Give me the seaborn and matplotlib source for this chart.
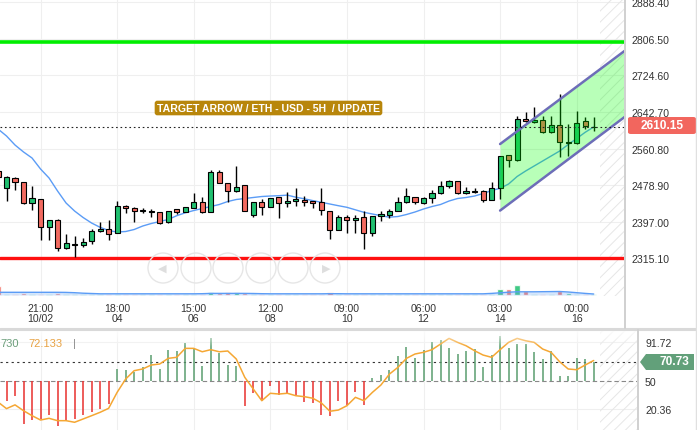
import numpy as np
import matplotlib
matplotlib.use("Agg")
import matplotlib.pyplot as plt
import seaborn as sns
from matplotlib.patches import Circle, Polygon, FancyBboxPatch
from matplotlib.lines import Line2D
from matplotlib.transforms import IdentityTransform

# ---------------- data ----------------
opens = [2510.6, 2472.5, 2494.9, 2486.0, 2438.9, 2447.9, 2385.2, 2400.9, 2338.2, 2346.0,
         2344.9, 2353.8, 2376.2, 2380.7, 2371.8, 2432.2, 2427.7, 2420.0, 2417.7, 2418.8,
         2396.4, 2425.5, 2418.8, 2427.7, 2441.2, 2418.8, 2508.4, 2483.7, 2465.8, 2479.3,
         2412.1, 2441.2, 2430.0, 2452.4, 2438.9, 2443.4, 2445.7, 2443.4, 2441.2, 2421.0,
         2378.5, 2407.6, 2400.9, 2407.6, 2371.8, 2409.8, 2412.1, 2421.0, 2441.2, 2452.4,
         2438.9, 2450.1, 2461.3, 2477.0, 2488.2, 2461.3, 2464.7, 2465.8, 2445.7, 2472.5,
         2546.4, 2535.2, 2627.1, 2620.3, 2624.8, 2597.9, 2613.6, 2573.3, 2573.3, 2622.6,
         2609.0]
highs = [2515.1, 2499.4, 2497.2, 2487.0, 2477.0, 2449.0, 2402.0, 2403.1, 2369.5, 2365.0,
         2360.6, 2380.7, 2396.4, 2400.9, 2443.4, 2434.5, 2429.0, 2427.7, 2425.5, 2419.5,
         2422.0, 2426.5, 2431.0, 2461.3, 2452.4, 2512.9, 2512.9, 2484.5, 2521.8, 2480.0,
         2442.0, 2447.9, 2451.0, 2453.0, 2463.6, 2472.5, 2454.6, 2444.0, 2472.5, 2422.0,
         2412.1, 2412.1, 2412.1, 2421.0, 2410.5, 2421.0, 2425.5, 2452.4, 2472.5, 2453.0,
         2452.4, 2468.1, 2488.2, 2490.5, 2489.0, 2474.8, 2472.5, 2468.1, 2486.0, 2545.0,
         2547.0, 2633.8, 2642.7, 2654.0, 2633.8, 2633.8, 2683.0, 2615.9, 2645.0, 2631.5,
         2631.5]
lows = [2492.7, 2443.4, 2468.1, 2436.7, 2423.3, 2356.1, 2356.1, 2331.4, 2335.9, 2317.0,
        2340.4, 2347.1, 2374.0, 2356.1, 2371.0, 2416.5, 2396.4, 2416.5, 2407.6, 2391.9,
        2395.0, 2414.3, 2418.0, 2427.0, 2416.5, 2418.0, 2483.0, 2441.2, 2463.6, 2420.0,
        2407.6, 2412.1, 2429.0, 2405.3, 2430.0, 2432.2, 2432.2, 2427.7, 2412.1, 2358.3,
        2378.0, 2371.8, 2371.8, 2335.9, 2365.0, 2398.6, 2405.3, 2420.0, 2440.0, 2436.7,
        2436.7, 2438.9, 2460.0, 2472.5, 2459.1, 2460.0, 2461.3, 2441.2, 2445.0, 2447.9,
        2519.6, 2534.0, 2621.0, 2618.1, 2595.7, 2596.0, 2541.9, 2544.2, 2571.1, 2604.7,
        2600.2]
closes = [2497.2, 2497.2, 2486.0, 2438.9, 2450.1, 2385.2, 2400.9, 2338.2, 2349.4, 2348.2,
          2351.6, 2376.2, 2380.7, 2369.5, 2432.2, 2427.7, 2421.0, 2422.2, 2420.0, 2394.1,
          2421.0, 2418.8, 2430.0, 2441.2, 2418.8, 2508.4, 2483.7, 2465.8, 2474.8, 2421.0,
          2441.2, 2430.0, 2450.1, 2438.9, 2443.4, 2447.9, 2441.2, 2438.9, 2423.3, 2378.5,
          2407.6, 2400.9, 2405.3, 2371.8, 2409.8, 2414.3, 2421.0, 2441.2, 2454.6, 2441.2,
          2450.1, 2461.3, 2477.0, 2488.2, 2461.3, 2465.8, 2466.9, 2445.7, 2472.5, 2544.2,
          2535.2, 2627.1, 2622.6, 2624.8, 2597.9, 2613.6, 2575.5, 2575.5, 2618.1, 2611.4,
          2610.15]
ma_line = [2604.7, 2589.0, 2568.8, 2553.2, 2539.7, 2515.1, 2494.9, 2465.8, 2438.9, 2421.0,
           2406.5, 2394.1, 2384.5, 2377.3, 2374.0, 2375.1, 2379.6, 2387.4, 2393.0, 2397.5,
           2402.0, 2410.5, 2417.0, 2422.1, 2426.6, 2431.1, 2435.6, 2442.3, 2446.8, 2449.0,
           2451.3, 2453.5, 2454.6, 2455.3, 2456.6, 2451.9, 2448.3, 2444.3, 2440.5, 2436.7,
           2432.9, 2429.3, 2423.7, 2418.1, 2414.3, 2410.5, 2407.2, 2408.7, 2413.2, 2418.8,
           2425.5, 2431.1, 2435.6, 2443.4, 2449.0, 2451.3, 2454.6, 2460.2, 2466.9, 2471.9,
           2481.5, 2498.3, 2510.6, 2521.8, 2533.0, 2544.2, 2555.4, 2569.9, 2583.4, 2597.3,
           2609.2]
volumes = [9.0, 1.0, 1.0, 2.0, 1.0, 1.0, 1.0, 2.0, 1.0, 1.5,
           1.0, 1.0, 1.0, 1.0, 1.0, 1.0, 1.0, 1.0, 1.0, 1.0,
           1.0, 1.0, 1.0, 1.0, 1.0, 3.5, 2.0, 3.5, 3.5, 2.0,
           1.0, 1.0, 1.0, 1.0, 1.0, 1.0, 1.0, 1.0, 1.0, 3.5,
           1.0, 1.0, 1.0, 1.0, 1.0, 1.0, 1.0, 1.0, 1.0, 1.0,
           1.0, 1.0, 1.0, 1.0, 1.0, 1.0, 1.0, 1.0, 1.0, 6.0,
           6.0, 10.0, 4.5, 1.0, 1.0, 1.0, 4.5, 2.0, 1.0, 1.0,
           1.0]
volume_ma = [2.7, 2.7, 2.7, 2.7, 2.7, 2.7, 2.7, 2.7, 2.6, 2.3,
             1.8, 1.5, 1.2, 1.2, 1.2, 1.2, 1.2, 1.2, 1.2, 1.2,
             1.2, 1.2, 1.2, 1.2, 1.3, 1.6, 1.6, 1.6, 1.6, 1.6,
             1.5, 1.3, 1.2, 1.2, 1.2, 1.2, 1.2, 1.2, 1.2, 1.3,
             1.3, 1.2, 1.2, 1.2, 1.2, 1.2, 1.2, 1.2, 1.2, 1.2,
             1.2, 1.2, 1.2, 1.2, 1.2, 1.2, 1.2, 1.2, 1.6, 2.2,
             2.8, 3.2, 3.2, 3.2, 3.3, 3.4, 3.5, 3.0, 2.3, 1.6,
             1.0]
rsi = [30.0, 29.4, 34.1, 4.7, 9.2, 10.0, 14.2, 2.9, 8.2, 10.0,
       14.2, 17.7, 20.6, 25.9, 63.0, 62.3, 60.2, 64.9, 77.9, 63.0,
       83.6, 82.5, 90.3, 85.0, 66.6, 95.6, 80.0, 67.6, 65.9, 23.5,
       37.6, 29.4, 44.7, 35.5, 36.5, 35.5, 27.7, 27.0, 14.2, 13.5,
       29.4, 25.0, 39.0, 24.8, 53.2, 57.0, 62.0, 77.2, 86.1, 74.4,
       83.6, 92.0, 93.8, 85.4, 79.0, 82.5, 84.3, 64.9, 77.9, 97.8,
       85.4, 89.6, 89.6, 80.8, 73.7, 82.5, 55.3, 55.3, 74.4, 73.7,
       70.73]
rsi_signal = [28.0, 21.0, 25.0, 18.8, 13.5, 8.9, 10.7, 8.2, 8.2, 6.5,
              10.0, 13.5, 17.1, 21.3, 38.3, 52.4, 61.3, 63.1, 67.3, 68.4,
              74.4, 75.5, 85.0, 85.0, 81.4, 83.6, 81.4, 82.2, 73.7, 54.2,
              41.8, 29.4, 37.3, 36.5, 37.3, 34.7, 33.7, 32.0, 27.0, 18.2,
              19.5, 24.1, 33.0, 29.4, 38.3, 46.1, 57.7, 64.9, 74.4, 79.0,
              80.8, 83.6, 89.6, 95.6, 91.4, 87.8, 82.5, 77.9, 75.5, 83.6,
              91.4, 95.6, 93.1, 91.4, 84.3, 80.8, 70.8, 63.1, 62.3, 67.3,
              72.133]
x_tick_pos = [5, 14, 23, 32, 41, 50, 59, 68]
x_tick_labels = ["21:00\n10/02", "18:00\n04", "15:00\n06", "12:00\n08",
                 "09:00\n10", "06:00\n12", "03:00\n14", "00:00\n16"]
price_ticks = [2888.40, 2806.50, 2724.60, 2642.70, 2560.80, 2478.90, 2397.00, 2315.10]
ind_ticks = [91.72, 50, 20.36]
ind_tick_labels = ["91.72", "50", "20.36"]
resistance = 2800.0
support = 2316.5
last_price = 2610.15
rsi_last = 70.73
signal_last = 72.133
header_rsi_visible = "730"   # the header value is cut at the left edge in the source
channel_x = [59, 74.5]
channel_upper = [2571.0, 2792.0]
channel_lower = [2422.0, 2644.0]
title_text = "TARGET ARROW / ETH - USD - 5H  / UPDATE"

# ---------------- style ----------------
sns.set_theme(style="white")
plt.rcParams["font.family"] = ["Liberation Sans", "DejaVu Sans"]
plt.rcParams["hatch.linewidth"] = 0.7

W, H = 697, 431
fig = plt.figure(figsize=(W / 100, H / 100), dpi=100)
fig.patch.set_facecolor("white")

def fx(px):
    return px / W

def fy(py):
    return 1 - py / H

PT = 0.72  # points per pixel at 100 dpi
STEP, X0 = 8.51, -2.0   # px per candle, px position of candle 0
def idx_at(px):
    return (px - X0) / STEP

GREEN, RED = "#20c070", "#f26a60"
GRID = "#efefef"
HATCH = "#e6e6e6"

ax = fig.add_axes([0, fy(297), fx(624), 297 / H])
axi = fig.add_axes([0, 0, fx(637), fy(331)])
for a in (ax, axi):
    for s in a.spines.values():
        s.set_visible(False)
    a.set_facecolor("white")

n = len(opens)
idx = np.arange(n)
o = np.array(opens); c = np.array(closes); hi = np.array(highs); lo = np.array(lows)
up = c >= o

ax.set_xlim(idx_at(0), idx_at(624))
ax.set_ylim(2230.7, 2895.8)

# grid
for t in price_ticks:
    ax.axhline(t, color=GRID, lw=0.8, zorder=0)
for t in x_tick_pos:
    ax.axvline(t, color=GRID, lw=0.8, zorder=0)
ax.axvspan(idx_at(600), idx_at(640), facecolor="none", edgecolor=HATCH,
           hatch="///", lw=0, zorder=0)

# volume panel (twin axis)
axv = ax.twinx()
axv.set_ylim(-1, 296)
axv.set_axis_off()
vcol = [GREEN if u else RED for u in up]
axv.bar(idx, volumes, width=0.62, color=vcol, alpha=0.85, zorder=1)
axv.fill_between(idx, 0, volume_ma, color="#5b9cf6", alpha=0.25, lw=0)
sns.lineplot(x=idx, y=volume_ma, ax=axv, color="#5b9cf6", lw=1.0)

# support / resistance
ax.axhline(resistance, color="#00ee00", lw=2.6, zorder=2)
ax.axhline(support, color="#ff1010", lw=2.4, zorder=2)

# moving average
sns.lineplot(x=idx, y=ma_line, ax=ax, color="#5b9cf6", lw=1.0, zorder=3)

# candles
ax.vlines(idx, lo, hi, color="black", lw=1.0, zorder=4)
body_lo = np.minimum(o, c)
body_h = np.maximum(np.abs(c - o), 1.2)
ax.bar(idx, body_h, bottom=body_lo, width=0.6,
       color=[GREEN if u else RED for u in up], edgecolor="black",
       linewidth=0.8, zorder=5)

# channel
ax.fill_between(channel_x, channel_lower, channel_upper, color="#00ff00",
                alpha=0.28, lw=0, zorder=6)
ax.plot(channel_x, channel_upper, color="#6d6db8", lw=1.8, zorder=7)
ax.plot(channel_x, channel_lower, color="#6d6db8", lw=1.8, zorder=7)

# last price line
ax.axhline(last_price, color="#222222", lw=0.8, ls=(0, (1.5, 2.5)), zorder=8)

# axes ticks
ax.yaxis.tick_right()
ax.set_yticks(price_ticks)
ax.set_yticklabels([f"{t:.2f}" for t in price_ticks])
ax.set_xticks(x_tick_pos)
ax.set_xticklabels(x_tick_labels, linespacing=1.05)
ax.tick_params(axis="y", length=0, pad=8 * PT, labelsize=7.6, labelcolor="#333333")
ax.tick_params(axis="x", length=0, pad=7 * PT, labelsize=7.6, labelcolor="#333333")
ax.set_xlabel(""); ax.set_ylabel("")

# ---------------- indicator ----------------
for t in x_tick_pos:
    axi.axvline(t, color=GRID, lw=0.8, zorder=0)
for t in (91.72, 20.36):
    axi.axhline(t, color=GRID, lw=0.8, zorder=0)
axi.axvspan(idx_at(600), idx_at(650), facecolor="none", edgecolor=HATCH,
            hatch="///", lw=0, zorder=0)
axi.axhline(70, color="#333333", lw=0.8, ls=(0, (2, 3)), zorder=1)
axi.axhline(50, color="#888888", lw=0.8, ls=(0, (4, 2.5)), zorder=1)
r = np.array(rsi)
axi.vlines(idx, 50, r, colors=np.where(r >= 50, "#5a9e6f", "#e8302e"), lw=1.1, zorder=2)
sns.lineplot(x=idx, y=rsi_signal, ax=axi, color="#f5a733", lw=1.1, zorder=3)
grad = np.ones((40, 2, 4))
grad[:, :, 3] = np.linspace(0.85, 0.0, 40)[:, None]
axi.imshow(grad, extent=[0, 1, 0.83, 1.0], transform=axi.transAxes,
           aspect="auto", zorder=4, interpolation="bilinear")
axi.set_xlim(idx_at(0), idx_at(637))
axi.set_ylim(-1.7, 104.5)
axi.yaxis.tick_right()
axi.set_yticks(ind_ticks)
axi.set_yticklabels(ind_tick_labels)
axi.set_xticks([])
axi.tick_params(axis="y", length=0, pad=8 * PT, labelsize=7.6, labelcolor="#333333")
axi.set_xlabel(""); axi.set_ylabel("")

# ---------------- overlays ----------------
fig.add_artist(Line2D([0, 1], [fy(330), fy(330)], color="#d9d9d9", lw=2.2))
fig.add_artist(Line2D([fx(624.5), fx(624.5)], [fy(0), fy(329)], color="#d0d0d0", lw=1.4))
fig.add_artist(Line2D([fx(637.5), fx(637.5)], [fy(331), fy(431)], color="#d0d0d0", lw=1.4))
fig.add_artist(Line2D([fx(695.5), fx(695.5)], [0, 1], color="#e0e0e0", lw=1.0))

# navigation buttons
for cx in (163, 196, 228, 261, 293, 325):
    fig.add_artist(Circle((cx, H - 269), 15, transform=IdentityTransform(),
                          facecolor="none", edgecolor="#e6e6e6", lw=1.0))
fig.text(fx(162), fy(269), "\u25c0", ha="center", va="center", fontsize=8,
         color="#dedede", family="DejaVu Sans")
fig.text(fx(326), fy(269), "\u25b6", ha="center", va="center", fontsize=8,
         color="#dedede", family="DejaVu Sans")

# title label
fig.text(fx(268.5), fy(109), title_text, ha="center", va="center", fontsize=7.6,
         fontweight="bold", color="white",
         bbox=dict(boxstyle="round,pad=0.22,rounding_size=0.25", fc="#b8860b", ec="none"))

# last price tag
fig.add_artist(FancyBboxPatch((fx(628), fy(135)), fx(696) - fx(628), fy(118) - fy(135),
                              boxstyle="round,pad=0,rounding_size=0.004",
                              transform=fig.transFigure, fc="#f2665e", ec="none"))
fig.text(fx(662), fy(126.5), f"{last_price:.2f}", ha="center", va="center",
         fontsize=8.6, fontweight="bold", color="white")

# rsi tag
fig.add_artist(Polygon([(640, H - 363), (646, H - 355), (694, H - 355), (694, H - 371),
                        (646, H - 371)], closed=True, transform=IdentityTransform(),
                       fc="#62a07a", ec="none"))
fig.text(fx(674), fy(362.5), f"{rsi_last:.2f}", ha="center", va="center",
         fontsize=8.6, fontweight="bold", color="white")

# indicator header
fig.text(fx(0.5), fy(344), header_rsi_visible, ha="left", va="center", fontsize=8,
         color="#6b9e7a")
fig.text(fx(28), fy(344), f"{signal_last:.3f}", ha="left", va="center", fontsize=8,
         color="#e8a243")
fig.text(fx(73), fy(344), "|", ha="left", va="center", fontsize=8, color="#888888")

fig.savefig("out.png", dpi=100, facecolor="white")
